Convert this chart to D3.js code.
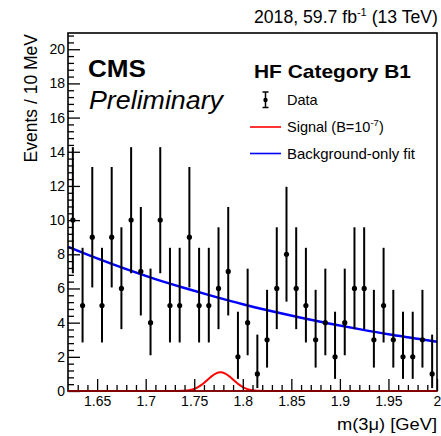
<!DOCTYPE html>
<html>
<head>
<meta charset="utf-8">
<script src="https://cdn.jsdelivr.net/npm/d3@7"></script>
<style>
  html, body { margin: 0; padding: 0; background: #fff; }
  svg { display: block; font-family: "Liberation Sans", Arial, Helvetica, sans-serif; }
</style>
</head>
<body>
<svg id="chart" width="441" height="436"></svg>
<script>
// ---- data ----
const binCenters = [1.625,1.635,1.645,1.655,1.665,1.675,1.685,1.695,1.705,1.715,
                    1.725,1.735,1.745,1.755,1.765,1.775,1.785,1.795,1.805,1.815,
                    1.825,1.835,1.845,1.855,1.865,1.875,1.885,1.895,1.905,1.915,
                    1.925,1.935,1.945,1.955,1.965,1.975,1.985,1.995];
const counts = [10,5,9,5,9,6,10,7,4,10,
                5,5,9,5,5,6,7,2,4,1,
                3,6,8,6,5,3,4,2,4,6,
                6,3,5,3,2,2,3,1];
// lower / upper ends of the error bars (read per bin)
const errLo = [6.89,2.84,6.06,2.84,6.06,3.62,6.89,4.42,2.09,6.89,
               2.84,2.84,6.06,2.84,2.84,3.62,4.42,0.71,2.09,0.17,
               1.37,3.62,5.23,3.62,2.84,1.37,2.09,0.71,2.09,3.62,
               3.62,1.37,2.84,1.37,0.71,0.71,1.37,0.17];
const errHi = [14.27,8.38,13.11,8.38,13.11,9.58,14.27,10.77,7.16,14.27,
               8.38,8.38,13.11,8.38,8.38,9.58,10.77,4.64,7.16,3.30,
               5.92,9.58,11.95,9.58,8.38,5.92,7.16,4.64,7.16,9.58,
               9.58,5.92,8.38,5.92,4.64,4.64,5.92,3.30];

const bkgX = [1.62,1.65,1.68,1.71,1.74,1.77,1.80,1.83,1.86,1.89,1.92,1.95,1.98,2.00];
const bkgY = [8.44,7.76,7.13,6.55,6.03,5.54,5.08,4.67,4.29,3.94,3.62,3.32,3.06,2.88];

const sigX = [1.62,1.72,1.732,1.737,1.742,1.747,1.752,1.757,1.762,1.767,1.772,1.777,
              1.782,1.787,1.792,1.797,1.802,1.807,1.812,1.817,1.822,1.834,2.00];
const sigY = [0,0,0.001,0.01,0.03,0.08,0.17,0.34,0.57,0.82,1.02,1.10,
              1.02,0.82,0.57,0.34,0.17,0.08,0.03,0.01,0.001,0,0];

const xMajorTicks = [1.65,1.70,1.75,1.80,1.85,1.90,1.95,2.00];
const xTickLabels = ["1.65","1.7","1.75","1.8","1.85","1.9","1.95","2"];
const yMajorTicks = [0,2,4,6,8,10,12,14,16,18,20];

// ---- layout ----
const L = 68, R = 437, T = 33, B = 391;
const svg = d3.select("#chart");
const x = d3.scaleLinear().domain([1.62, 2.0]).range([L, R]);
const y = d3.scaleLinear().domain([0, 20.95]).range([B, T]);

// background-only fit
svg.append("path")
  .datum(bkgX.map((v, i) => [v, bkgY[i]]))
  .attr("fill", "none").attr("stroke", "#0000ff").attr("stroke-width", 2.5)
  .attr("d", d3.line().x(d => x(d[0])).y(d => y(d[1])).curve(d3.curveMonotoneX));

// signal
svg.append("path")
  .datum(sigX.map((v, i) => [v, sigY[i]]))
  .attr("fill", "none").attr("stroke", "#ff0000").attr("stroke-width", 2)
  .attr("d", d3.line().x(d => x(d[0])).y(d => y(d[1])).curve(d3.curveMonotoneX));

// data points
const pts = svg.append("g");
binCenters.forEach((c, i) => {
  pts.append("line")
    .attr("x1", x(c)).attr("x2", x(c))
    .attr("y1", y(errLo[i])).attr("y2", y(errHi[i]))
    .attr("stroke", "#000").attr("stroke-width", 2);
  pts.append("circle")
    .attr("cx", x(c)).attr("cy", y(counts[i])).attr("r", 2.6).attr("fill", "#000");
});

// axes (ticks pointing inward)
const xMinor = d3.range(1.63, 2.0, 0.01).filter(v => !xMajorTicks.some(m => Math.abs(m - v) < 1e-6));
svg.append("g").attr("transform", `translate(0,${B})`)
  .call(d3.axisBottom(x).tickValues(xMinor).tickSize(-6).tickFormat(""))
  .call(g => g.select(".domain").remove())
  .call(g => g.selectAll("line").attr("stroke-width", 1.3));
svg.append("g").attr("transform", `translate(0,${B})`)
  .call(d3.axisBottom(x).tickValues(xMajorTicks).tickSize(-12).tickPadding(5)
        .tickFormat((d, i) => xTickLabels[i]))
  .call(g => g.select(".domain").remove())
  .call(g => g.selectAll("line").attr("stroke-width", 1.3))
  .call(g => g.selectAll("text").attr("font-size", 14).attr("fill", "#000")
        .attr("font-family", "Liberation Sans, Arial, sans-serif").attr("dy", "0.71em"));

const yMinor = d3.range(0.4, 20.9, 0.4).filter(v => Math.abs(v / 2 - Math.round(v / 2)) > 1e-6);
svg.append("g").attr("transform", `translate(${L},0)`)
  .call(d3.axisLeft(y).tickValues(yMinor).tickSize(-6).tickFormat(""))
  .call(g => g.select(".domain").remove())
  .call(g => g.selectAll("line").attr("stroke-width", 1.3));
svg.append("g").attr("transform", `translate(${L},0)`)
  .call(d3.axisLeft(y).tickValues(yMajorTicks).tickSize(-12).tickPadding(3).tickFormat(d3.format("d")))
  .call(g => g.select(".domain").remove())
  .call(g => g.selectAll("line").attr("stroke-width", 1.3))
  .call(g => g.selectAll("text").attr("font-size", 14).attr("fill", "#000")
        .attr("font-family", "Liberation Sans, Arial, sans-serif"));

// frame
svg.append("rect").attr("x", L).attr("y", T).attr("width", R - L).attr("height", B - T)
  .attr("fill", "none").attr("stroke", "#000").attr("stroke-width", 1.6);
// signal tail along the baseline drawn over the frame
svg.append("line").attr("x1", L).attr("x2", R).attr("y1", B).attr("y2", B)
  .attr("stroke", "#a00000").attr("stroke-width", 1.6);

// axis titles
svg.append("text").attr("x", R).attr("y", 430).attr("text-anchor", "end")
  .attr("font-size", 17).attr("textLength", 100).attr("lengthAdjust", "spacingAndGlyphs")
  .text("m(3\u03bc) [GeV]");
svg.append("text").attr("transform", `translate(37,${T + 1}) rotate(-90)`)
  .attr("text-anchor", "end").attr("font-size", 17.5).text("Events / 10 MeV");

// top-right lumi text
const lumi = svg.append("text").attr("x", 438).attr("y", 23).attr("text-anchor", "end")
  .attr("font-size", 17.5).attr("textLength", 184).attr("lengthAdjust", "spacingAndGlyphs");
lumi.append("tspan").text("2018, 59.7 fb");
lumi.append("tspan").attr("dy", -7).attr("font-size", 11).text("-1");
lumi.append("tspan").attr("dy", 7).text(" (13 TeV)");

// CMS Preliminary
svg.append("text").attr("x", 88).attr("y", 77).attr("font-size", 24).attr("font-weight", "bold")
  .attr("textLength", 58).attr("lengthAdjust", "spacingAndGlyphs").text("CMS");
svg.append("text").attr("x", 89).attr("y", 108.5).attr("font-size", 26).attr("font-style", "italic")
  .attr("textLength", 134).attr("lengthAdjust", "spacingAndGlyphs").text("Preliminary");

// legend
svg.append("text").attr("x", 254).attr("y", 77.7).attr("font-size", 19).attr("font-weight", "bold")
  .attr("textLength", 157).attr("lengthAdjust", "spacingAndGlyphs").text("HF Category B1");
const lg = svg.append("g");
lg.append("line").attr("x1", 265.5).attr("x2", 265.5).attr("y1", 92).attr("y2", 107.5).attr("stroke", "#000").attr("stroke-width", 1.5);
lg.append("line").attr("x1", 262.5).attr("x2", 268.5).attr("y1", 92).attr("y2", 92).attr("stroke", "#000").attr("stroke-width", 1.5);
lg.append("line").attr("x1", 262.5).attr("x2", 268.5).attr("y1", 107.5).attr("y2", 107.5).attr("stroke", "#000").attr("stroke-width", 1.5);
lg.append("circle").attr("cx", 265.5).attr("cy", 100).attr("r", 2.2).attr("fill", "#000");
lg.append("text").attr("x", 287).attr("y", 105).attr("font-size", 14.5).text("Data");

lg.append("line").attr("x1", 250).attr("x2", 281).attr("y1", 127).attr("y2", 127).attr("stroke", "#ff0000").attr("stroke-width", 1.6);
const st = lg.append("text").attr("x", 287).attr("y", 132).attr("font-size", 14.5);
st.append("tspan").text("Signal (B=10");
st.append("tspan").attr("dy", -6).attr("font-size", 9.5).text("-7");
st.append("tspan").attr("dy", 6).text(")");

lg.append("line").attr("x1", 250).attr("x2", 281).attr("y1", 153.5).attr("y2", 153.5).attr("stroke", "#0000ff").attr("stroke-width", 1.6);
lg.append("text").attr("x", 287).attr("y", 159).attr("font-size", 14.5)
  .attr("textLength", 128).attr("lengthAdjust", "spacingAndGlyphs").text("Background-only fit");
</script>
</body>
</html>
